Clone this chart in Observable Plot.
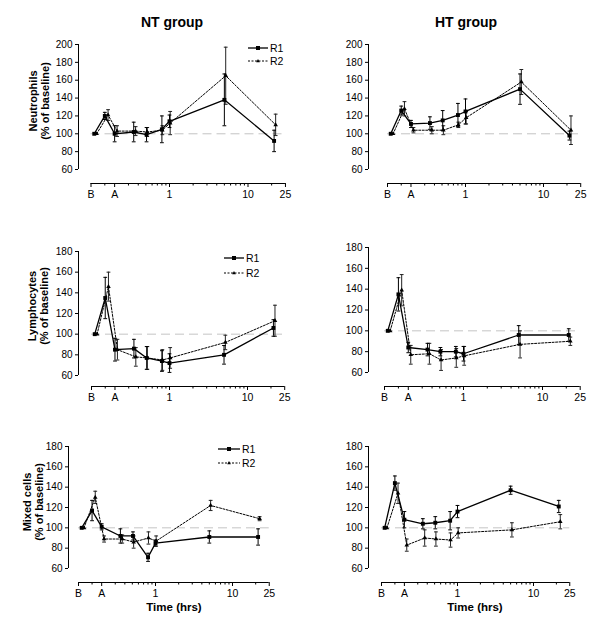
<!DOCTYPE html>
<html>
<head>
<meta charset="utf-8">
<script src="https://cdn.jsdelivr.net/npm/d3@7"></script>
<script src="https://cdn.jsdelivr.net/npm/@observablehq/plot@0.6"></script>
<style>
  html, body { margin: 0; padding: 0; background: #fff; }
  body { font-family: "Liberation Sans", Arial, sans-serif; color: #000; }
  #root { position: relative; width: 600px; height: 628px; overflow: hidden; background: #fff; }
  .abs { position: absolute; white-space: nowrap; }
  .title { font-weight: bold; font-size: 14px; transform: translate(-50%, -50%); }
  .ylab { font-weight: bold; font-size: 11px; line-height: 12px; text-align: center; transform: translate(-50%, -50%) rotate(-90deg); }
  .xlab { font-weight: bold; font-size: 11.5px; transform: translate(-50%, -50%); }
</style>
</head>
<body>
<div id="root"></div>
<script>
// ---- Data (time in hours, values in % of baseline, SEM error) ----
const timesR1 = [0.11, 0.15, 0.2, 0.35, 0.51, 0.8, 1.0, 5.0, 21.5];
const timesR2 = [0.118, 0.165, 0.215, 0.37, 0.52, 0.81, 1.02, 5.2, 22.5];

const ntNeutR1    = [100, 120, 100, 102, 99, 105, 114, 138, 92];
const ntNeutR1Err = [0, 4, 9, 11, 8, 15, 7, 29, 12];
const ntNeutR2    = [100, 121, 103, 103, 102, 104, 112, 165, 110];
const ntNeutR2Err = [0, 6, 6, 5, 5, 5, 13, 32, 12];

const htNeutR1    = [100, 126, 111, 112, 115, 121, 125, 150, 98];
const htNeutR1Err = [0, 5, 4, 7, 11, 13, 14, 17, 5];
const htNeutR2    = [100, 128, 104, 104, 104, 110, 118, 158, 104];
const htNeutR2Err = [0, 8, 3, 4, 5, 3, 7, 14, 16];

const ntLymR1    = [100, 135, 85, 86, 77, 74, 72, 80, 106];
const ntLymR1Err = [0, 20, 11, 9, 11, 10, 9, 9, 8];
const ntLymR2    = [100, 146, 85, 78, 77, 75, 77, 92, 113];
const ntLymR2Err = [0, 14, 10, 9, 11, 10, 10, 7, 15];

const htLymR1    = [100, 135, 84, 82, 80, 80, 78, 96, 96];
const htLymR1Err = [0, 16, 5, 6, 4, 5, 7, 9, 6];
const htLymR2    = [100, 139, 77, 78, 72, 74, 76, 87, 90];
const htLymR2Err = [0, 15, 9, 10, 10, 9, 9, 13, 4];

const ntMixR1    = [100, 117, 101, 92, 92, 71, 85, 91, 91];
const ntMixR1Err = [0, 10, 3, 7, 4, 4, 3, 6, 8];
const ntMixR2    = [100, 130, 89, 89, 86, 90, 87, 122, 109];
const ntMixR2Err = [0, 6, 3, 4, 6, 6, 5, 5, 2];

const htMixR1    = [100, 144, 108, 104, 105, 107, 116, 137, 121];
const htMixR1Err = [0, 7, 8, 5, 6, 9, 6, 4, 6];
const htMixR2    = [100, 134, 83, 90, 89, 88, 95, 98, 106];
const htMixR2Err = [0, 10, 6, 8, 7, 7, 5, 7, 7];

const xTickValues = [0.1, 0.2, 1, 10, 30];
const xTickLabels = ["B", "A", "1", "10", "25"];
const xMinorTicks = [0.15, 0.3, 0.4, 0.5, 0.6, 0.7, 0.8, 0.9, 2, 3, 4, 5, 6, 7, 8, 9, 20];
const yTicks200 = [60, 80, 100, 120, 140, 160, 180, 200];
const yTicks180 = [60, 80, 100, 120, 140, 160, 180];
const seriesNames = ["R1", "R2"];
const groupTitles = ["NT group", "HT group"];
const rowLabels = ["Neutrophils", "Lymphocytes", "Mixed cells"];

// ---- Layout (page pixels) ----
const layouts = [
  {left: 0,   top: 0,   h: 210, yAxisX: 78,  yTop: 44,  yBot: 169, xAxisY: 183, x1: 169, dec: 78.5, ymax: 200, yTicks: yTicks200},
  {left: 300, top: 0,   h: 210, yAxisX: 368, yTop: 44,  yBot: 169, xAxisY: 183, x1: 465, dec: 78,   ymax: 200, yTicks: yTicks200},
  {left: 0,   top: 210, h: 210, yAxisX: 78,  yTop: 251, yBot: 375, xAxisY: 386, x1: 169, dec: 78,   ymax: 180, yTicks: yTicks180},
  {left: 300, top: 210, h: 210, yAxisX: 368, yTop: 247, yBot: 372, xAxisY: 386, x1: 463, dec: 79,   ymax: 180, yTicks: yTicks180},
  {left: 0,   top: 420, h: 208, yAxisX: 68,  yTop: 446, yBot: 568, xAxisY: 582, x1: 155, dec: 77,   ymax: 180, yTicks: yTicks180},
  {left: 300, top: 420, h: 208, yAxisX: 368, yTop: 446, yBot: 568, xAxisY: 582, x1: 457, dec: 76,   ymax: 180, yTicks: yTicks180}
];

const panelData = [
  [ntNeutR1, ntNeutR1Err, ntNeutR2, ntNeutR2Err],
  [htNeutR1, htNeutR1Err, htNeutR2, htNeutR2Err],
  [ntLymR1, ntLymR1Err, ntLymR2, ntLymR2Err],
  [htLymR1, htLymR1Err, htLymR2, htLymR2Err],
  [ntMixR1, ntMixR1Err, ntMixR2, ntMixR2Err],
  [htMixR1, htMixR1Err, htMixR2, htMixR2Err]
];

function rows(times, vals, errs) {
  return vals.map((v, i) => ({t: times[i], v, e: errs[i], lo: v - errs[i], hi: v + errs[i]}));
}

const capSymbol = {
  draw(ctx, size) {
    const r = Math.sqrt(size / Math.PI);
    ctx.moveTo(-r, 0);
    ctx.lineTo(r, 0);
  }
};

const root = document.getElementById("root");
const FONT = "'Liberation Sans', Arial, sans-serif";

function makePanel(L, data) {
  const [r1, r1e, r2, r2e] = data;
  const W = 300, H = L.h;
  const xB = L.x1 - L.dec;
  const xE = L.x1 + L.dec * Math.log10(30);
  const d1 = rows(timesR1, r1, r1e), d2 = rows(timesR2, r2, r2e);
  const e1 = d1.filter(d => d.e > 0), e2 = d2.filter(d => d.e > 0);
  const tickLabelRows = xTickValues.map((v, i) => ({v, label: xTickLabels[i]}));
  const svg = Plot.plot({
    width: W, height: H,
    marginLeft: L.yAxisX - L.left, marginRight: 0, marginTop: 0,
    marginBottom: H - (L.xAxisY - L.top),
    x: {type: "log", domain: [0.1, 30], range: [xB - L.left, xE - L.left]},
    y: {domain: [60, L.ymax], range: [L.yBot - L.top, L.yTop - L.top]},
    style: {background: "transparent", overflow: "visible", fontFamily: FONT, fontSize: "10px", color: "#000"},
    marks: [
      // reference line at 100%
      Plot.ruleY([100], {x1: () => 0.1, x2: () => 30, stroke: "#c4c4c4", strokeWidth: 1, strokeDasharray: "9,5"}),
      // axis lines
      Plot.ruleX([0.1], {y1: () => 60, y2: () => L.ymax, dx: L.yAxisX - xB, stroke: "#000", strokeWidth: 1}),
      Plot.ruleY([60], {x1: () => 0.1, x2: () => 30, dy: L.xAxisY - L.yBot, stroke: "#000", strokeWidth: 1}),
      Plot.axisY(L.yTicks, {anchor: "left", tickSize: 3, tickPadding: 3, label: null, fontSize: 10}),
      Plot.axisX(xTickValues, {anchor: "bottom", tickSize: 4, label: null, tickFormat: () => ""}),
      Plot.axisX(xMinorTicks, {anchor: "bottom", tickSize: 2.5, label: null, tickFormat: () => ""}),
      Plot.text(tickLabelRows, {x: "v", text: "label", frameAnchor: "bottom", lineAnchor: "top", dy: 7, fontSize: 10.5, fill: "#000"}),
      // R2 (dotted)
      Plot.ruleX(e2, {x: "t", y1: "lo", y2: "hi", stroke: "#222", strokeWidth: 1}),
      Plot.dot(e2, {x: "t", y: "lo", symbol: capSymbol, r: 1.9, stroke: "#222", fill: "none", strokeWidth: 1}),
      Plot.dot(e2, {x: "t", y: "hi", symbol: capSymbol, r: 1.9, stroke: "#222", fill: "none", strokeWidth: 1}),
      Plot.line(d2, {x: "t", y: "v", stroke: "#000", strokeWidth: 1, strokeDasharray: "2,1.5"}),
      Plot.dot(d2, {x: "t", y: "v", symbol: "triangle", r: 1.7, fill: "#000", stroke: "none"}),
      // R1 (solid)
      Plot.ruleX(e1, {x: "t", y1: "lo", y2: "hi", stroke: "#000", strokeWidth: 1}),
      Plot.dot(e1, {x: "t", y: "lo", symbol: capSymbol, r: 1.9, stroke: "#000", fill: "none", strokeWidth: 1}),
      Plot.dot(e1, {x: "t", y: "hi", symbol: capSymbol, r: 1.9, stroke: "#000", fill: "none", strokeWidth: 1}),
      Plot.line(d1, {x: "t", y: "v", stroke: "#000", strokeWidth: 1.3}),
      Plot.dot(d1, {x: "t", y: "v", symbol: "square", r: 2.2, fill: "#000", stroke: "none"})
    ]
  });
  svg.style.position = "absolute";
  svg.style.left = L.left + "px";
  svg.style.top = L.top + "px";
  root.appendChild(svg);
}

layouts.forEach((L, i) => makePanel(L, panelData[i]));

function addText(cls, html, x, y) {
  const d = document.createElement("div");
  d.className = "abs " + cls;
  d.style.left = x + "px";
  d.style.top = y + "px";
  d.innerHTML = html;
  root.appendChild(d);
}

// titles
addText("title", groupTitles[0], 172, 22);
addText("title", groupTitles[1], 466, 22);
// y labels
addText("ylab", rowLabels[0] + "<br>(% of baseline)", 39, 101);
addText("ylab", rowLabels[1] + "<br>(% of baseline)", 38, 306);
addText("ylab", rowLabels[2] + "<br>(% of baseline)", 33, 502);
// x labels
addText("xlab", "Time (hrs)", 174, 607);
addText("xlab", "Time (hrs)", 475, 607);

// legends
function addLegend(x0, x1, yA, yB) {
  const ns = "http://www.w3.org/2000/svg";
  const svg = document.createElementNS(ns, "svg");
  svg.setAttribute("width", 600); svg.setAttribute("height", 628);
  svg.style.position = "absolute"; svg.style.left = "0"; svg.style.top = "0"; svg.style.overflow = "visible";
  svg.style.pointerEvents = "none";
  const mid = (x0 + x1) / 2;
  const mk = (tag, attrs) => { const e = document.createElementNS(ns, tag); for (const k in attrs) e.setAttribute(k, attrs[k]); svg.appendChild(e); return e; };
  mk("line", {x1: x0, x2: x1, y1: yA, y2: yA, stroke: "#000", "stroke-width": 1.3});
  mk("rect", {x: mid - 2, y: yA - 2, width: 4, height: 4, fill: "#000"});
  mk("line", {x1: x0, x2: x1, y1: yB, y2: yB, stroke: "#000", "stroke-width": 1, "stroke-dasharray": "2,1.5"});
  mk("path", {d: `M${mid},${yB - 2}L${mid + 1.8},${yB + 1.2}L${mid - 1.8},${yB + 1.2}Z`, fill: "#000"});
  [[yA, seriesNames[0]], [yB, seriesNames[1]]].forEach(([y, s]) => {
    const t = mk("text", {x: x1 + 2, y: y, "dominant-baseline": "central", "font-size": "10.5px", "font-family": FONT});
    t.textContent = s;
  });
  root.appendChild(svg);
}
addLegend(248, 268, 48, 61);
addLegend(224, 244, 258, 273);
addLegend(218, 240, 449, 463);
</script>
</body>
</html>
